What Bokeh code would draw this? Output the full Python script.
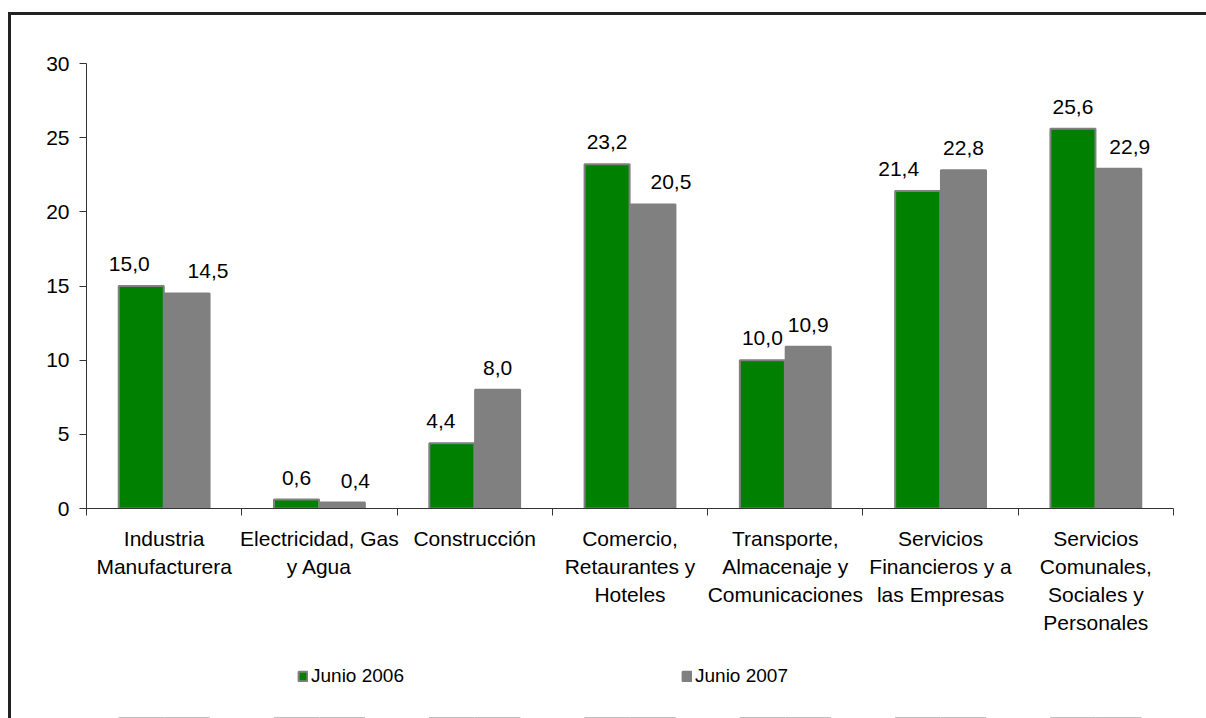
from bokeh.plotting import figure
from bokeh.layouts import column
from bokeh.models import (FactorRange, Range1d, LinearAxis, FixedTicker, ColumnDataSource,
                          Legend, LegendItem, Grid)
from bokeh.transform import dodge
from bokeh.core.properties import value
from bokeh.embed import file_html
from bokeh.resources import INLINE

# ---- data ----
categories = ["Industria Manufacturera", "Electricidad, Gas y Agua", "Construcción",
              "Comercio, Retaurantes y Hoteles", "Transporte, Almacenaje y Comunicaciones",
              "Servicios Financieros y a las Empresas",
              "Servicios Comunales, Sociales y Personales"]
category_labels = ["Industria\nManufacturera", "Electricidad, Gas\ny Agua", "Construcción",
                   "Comercio,\nRetaurantes y\nHoteles", "Transporte,\nAlmacenaje y\nComunicaciones",
                   "Servicios\nFinancieros y a\nlas Empresas",
                   "Servicios\nComunales,\nSociales y\nPersonales"]
series_names = ["Junio 2006", "Junio 2007"]
junio_2006 = [15.0, 0.6, 4.4, 23.2, 10.0, 21.4, 25.6]
junio_2007 = [14.5, 0.4, 8.0, 20.5, 10.9, 22.8, 22.9]
y_ticks = [0, 5, 10, 15, 20, 25, 30]

# label nudges (screen px), style only
label_dx_2006 = [-12, 0, -11, 0, 0, -19, 0]
label_dx_2007 = [21, 13, 0, 18, 0, 0, 11]

FONT = "Liberation Sans"
GREEN = "#008000"
GRAY = "#808080"
AXIS = "#333333"

def fmt(v):
    return f"{v:.1f}".replace(".", ",")

src = ColumnDataSource(dict(
    cat=categories, j06=junio_2006, j07=junio_2007,
    l06=[fmt(v) for v in junio_2006], l07=[fmt(v) for v in junio_2007],
    dx06=label_dx_2006, dx07=label_dx_2007,
))

p = figure(x_range=FactorRange(factors=categories, range_padding=0),
           y_range=Range1d(y_ticks[0], y_ticks[-1]),
           width=1195, height=633, output_backend="svg", toolbar_location=None,
           x_axis_location=None, y_axis_location=None,
           min_border_left=75, min_border_right=33, min_border_top=48, min_border_bottom=140)
p.outline_line_color = None
p.background_fill_color = "white"
p.border_fill_color = "white"
p.center = [c for c in p.center if not isinstance(c, Grid)]

n = len(categories)
xaxis = LinearAxis(
    ticker=FixedTicker(ticks=[i + 0.5 for i in range(n)], minor_ticks=list(range(n + 1))),
    major_label_overrides={i + 0.5: lab for i, lab in enumerate(category_labels)},
    major_tick_line_color=None, major_tick_out=7, major_tick_in=0,
    minor_tick_out=7, minor_tick_in=0, minor_tick_line_color=AXIS,
    axis_line_color=AXIS, axis_line_width=1,
    major_label_standoff=11,
    major_label_text_font=FONT, major_label_text_font_size="21px",
    major_label_text_color="black", major_label_text_line_height=1.23,
)
p.add_layout(xaxis, "below")

yaxis = LinearAxis(
    ticker=FixedTicker(ticks=y_ticks, minor_ticks=[]),
    major_tick_out=7, major_tick_in=0, major_tick_line_color=AXIS,
    minor_tick_line_color=None,
    axis_line_color=AXIS, axis_line_width=1,
    major_label_standoff=10,
    major_label_text_font=FONT, major_label_text_font_size="21px",
    major_label_text_color="black",
)
p.add_layout(yaxis, "left")

bw = 0.29
off = 0.1475
r1 = p.vbar(x=dodge("cat", -off, range=p.x_range), top="j06", width=bw, source=src,
            fill_color=GREEN, line_color=GRAY, line_width=2)
r2 = p.vbar(x=dodge("cat", off, range=p.x_range), top="j07", width=bw, source=src,
            fill_color=GRAY, line_color=GRAY, line_width=2)

for col, lab, dx, o in [("j06", "l06", "dx06", -off), ("j07", "l07", "dx07", off)]:
    p.text(x=dodge("cat", o, range=p.x_range), y=col, text=lab, x_offset=dx, y_offset=-22,
           source=src, text_align="center", text_baseline="alphabetic",
           text_font=value(FONT), text_font_size="21px", text_color="black")

# ---- legend strip: a second figure whose frame holds the legend ----
# its key renderers use the same data, but its y range lies above all values so only the key shows
p2 = figure(width=1195, height=70,
            x_range=FactorRange(factors=categories, range_padding=0), y_range=Range1d(40, 41),
            output_backend="svg", toolbar_location=None,
            x_axis_location=None, y_axis_location=None, min_border=0)
p2.outline_line_color = None
p2.background_fill_color = "white"
p2.border_fill_color = "white"
p2.center = [c for c in p2.center if not isinstance(c, Grid)]
k1 = p2.vbar(x=dodge("cat", -off, range=p2.x_range), top="j06", width=bw, source=src,
             fill_color=GREEN, line_color=GRAY, line_width=2)
k2 = p2.vbar(x=dodge("cat", off, range=p2.x_range), top="j07", width=bw, source=src,
             fill_color=GRAY, line_color=GRAY, line_width=2)

legend = Legend(items=[LegendItem(label=series_names[0], renderers=[k1]),
                       LegendItem(label=series_names[1], renderers=[k2])],
                location=(211, 31), orientation="horizontal", spacing=105, label_width=265,
                glyph_width=11, glyph_height=12, label_standoff=3, padding=0, margin=0,
                border_line_color=None, background_fill_alpha=0,
                label_text_font=FONT, label_text_font_size="19px", label_text_color="black")
p2.add_layout(legend)

layout = column(p, p2, spacing=0,
                styles={"margin-left": "8px", "margin-top": "12px",
                        "border-left": "3px solid #222222", "border-top": "3px solid #222222"})

open("out.html", "w").write(file_html(layout, INLINE))
